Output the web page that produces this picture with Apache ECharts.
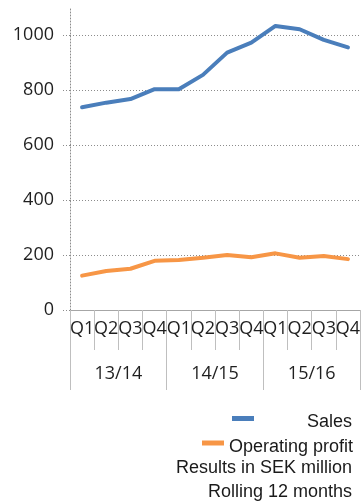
<!DOCTYPE html>
<html>
<head>
<meta charset="utf-8">
<script src="https://cdn.jsdelivr.net/npm/echarts@6/dist/echarts.min.js"></script>
<style>html,body{margin:0;padding:0;background:#fff}#c{width:363px;height:504px}</style>
</head>
<body>
<div id="c"></div>
<script>
var quarters = ['Q1','Q2','Q3','Q4','Q1','Q2','Q3','Q4','Q1','Q2','Q3','Q4'];
var years = ['13/14','14/15','15/16'];
var sales = [737, 754, 767, 803, 803, 855, 936, 972, 1033, 1021, 982, 955];
var operatingProfit = [125, 142, 150, 179, 182, 190, 200, 192, 206, 190, 196, 185];
var yTicks = [0, 200, 400, 600, 800, 1000];

var chart = echarts.init(document.getElementById('c'));
var axisFont = { fontFamily: 'Open Sans', fontSize: 18, color: '#1f1f1f' };
chart.setOption({
  animation: false,
  grid: { left: 70, right: 0, top: 7.5, bottom: 194 },
  xAxis: [{
    type: 'category', data: quarters, boundaryGap: true,
    axisLine: { show: true, lineStyle: { color: '#a6a6a6', width: 1 } },
    axisTick: { show: true, interval: 0, length: 40, lineStyle: { color: '#bfbfbf' } },
    axisLabel: Object.assign({ interval: 0, margin: 10 }, axisFont),
    splitLine: { show: false }
  }, {
    type: 'category', data: years, position: 'bottom', boundaryGap: true,
    axisLine: { show: false },
    axisTick: { show: true, interval: 0, length: 80, lineStyle: { color: '#bfbfbf' } },
    axisLabel: Object.assign({ interval: 0, margin: 55 }, axisFont),
    splitLine: { show: false }
  }],
  yAxis: {
    type: 'value', min: 0, max: 1100, interval: 200,
    axisLine: { show: true, lineStyle: { color: '#8c8c8c', type: [1, 2] } },
    axisTick: { show: true, length: 7, customValues: yTicks, lineStyle: { color: '#8c8c8c', type: [1, 2] } },
    axisLabel: Object.assign({ margin: 16, customValues: yTicks, formatter: function (v) { return String(v); } }, axisFont),
    splitLine: { show: true, lineStyle: { color: '#8c8c8c', type: [1, 2] } }
  },
  legend: [{
    data: ['Sales'], left: 232, top: 406, padding: 0,
    itemWidth: 22, itemHeight: 5, icon: 'rect',
    formatter: '{a|{name}}',
    textStyle: { rich: { a: { width: 93, align: 'right', fontFamily: 'Liberation Sans', fontSize: 18, color: '#1a1a1a', lineHeight: 24, padding: [7, 0, 0, 0] } } }
  }, {
    data: ['Operating profit'], left: 202, top: 430, padding: 0,
    itemWidth: 22, itemHeight: 5, icon: 'rect',
    formatter: '{a|{name}}',
    textStyle: { rich: { a: { fontFamily: 'Liberation Sans', fontSize: 18, color: '#1a1a1a', lineHeight: 24, padding: [8, 0, 0, 0] } } }
  }],
  title: [{
    text: 'Results in SEK million', right: 11, top: 456, padding: 0,
    textStyle: { fontFamily: 'Liberation Sans', fontSize: 18, fontWeight: 'normal', color: '#1a1a1a', lineHeight: 24 }
  }, {
    text: 'Rolling 12 months', right: 11, top: 480, padding: 0,
    textStyle: { fontFamily: 'Liberation Sans', fontSize: 18, fontWeight: 'normal', color: '#1a1a1a', lineHeight: 24 }
  }],
  series: [{
    name: 'Sales', type: 'line', data: sales, showSymbol: false, symbol: 'none',
    itemStyle: { color: '#4a7ebb' },
    lineStyle: { color: '#4a7ebb', width: 4, cap: 'round', join: 'round' }
  }, {
    name: 'Operating profit', type: 'line', data: operatingProfit, showSymbol: false, symbol: 'none',
    itemStyle: { color: '#f79646' },
    lineStyle: { color: '#f79646', width: 4, cap: 'round', join: 'round' }
  }]
});
</script>
</body>
</html>
